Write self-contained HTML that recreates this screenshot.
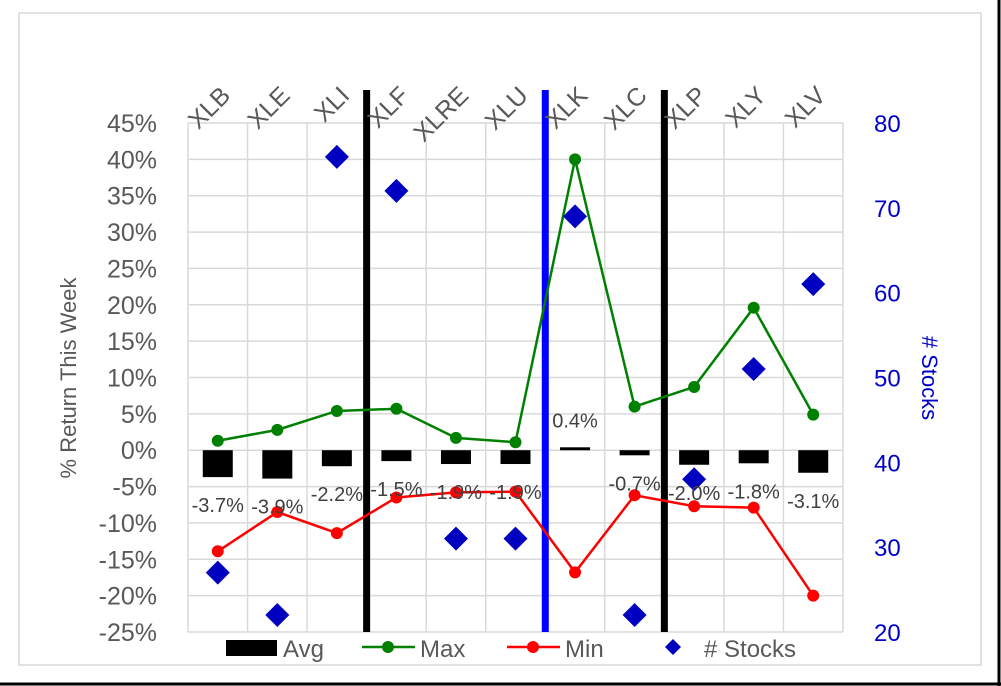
<!DOCTYPE html>
<html><head><meta charset="utf-8"><style>
body{margin:0;background:#fff;}
svg{display:block;font-family:"Liberation Sans",sans-serif;}
</style></head><body>
<svg id="chart" width="1001" height="686" viewBox="0 0 1001 686">
<rect x="19" y="13" width="962" height="652" fill="#fff" stroke="#d9d9d9" stroke-width="1.5"/>
<line x1="0" y1="684" x2="1001" y2="684" stroke="#000" stroke-width="3"/>
<line x1="999" y1="0" x2="999" y2="686" stroke="#000" stroke-width="3"/>
<g id="grid"></g>
<g id="marks"></g>
<g id="labels"></g>
</svg>
<script>
const categories=["XLB","XLE","XLI","XLF","XLRE","XLU","XLK","XLC","XLP","XLY","XLV"];
const avgVals=[-3.7,-3.9,-2.2,-1.5,-1.9,-1.9,0.4,-0.7,-2.0,-1.8,-3.1];
const maxVals=[1.3,2.8,5.4,5.7,1.7,1.1,40,6.0,8.7,19.6,4.9];
const minVals=[-13.9,-8.5,-11.4,-6.5,-5.8,-5.7,-16.8,-6.2,-7.7,-7.9,-20.0];
const stockVals=[27,22,76,72,31,31,69,22,38,51,61];
const leftTicks=[45,40,35,30,25,20,15,10,5,0,-5,-10,-15,-20,-25];
const rightTicks=[80,70,60,50,40,30,20];
const dividerAfter=[2,5,7];
const dividerColors=["#000","#0000ff","#000"];

const NS="http://www.w3.org/2000/svg";
const L=188,R=843,T=123,B=632;
const bw=(R-L)/categories.length;
const xC=i=>L+bw*(i+0.5);
const yL=v=>T+(45-v)/70*(B-T);
const yR=v=>B-(v-20)/60*(B-T);
function mk(tag,attrs,parent,text){const e=document.createElementNS(NS,tag);for(const k in attrs)e.setAttribute(k,attrs[k]);if(text!==undefined)e.textContent=text;parent.appendChild(e);return e;}
const grid=document.getElementById('grid'),marks=document.getElementById('marks'),labels=document.getElementById('labels');

leftTicks.forEach(t=>{
  const l=mk('line',{x1:L,x2:R,y1:yL(t),y2:yL(t),stroke:'#d9d9d9','stroke-width':1.5},grid);
  
  
  const tx=mk('text',{x:157,y:yL(t)+9,'text-anchor':'end','font-size':25,fill:'#595959'},labels,t+'%');
  
  
});
for(let i=0;i<=categories.length;i++){
  const l=mk('line',{x1:L+bw*i,x2:L+bw*i,y1:T,y2:B,stroke:'#d9d9d9','stroke-width':1.5},grid);
  
  
}
rightTicks.forEach(t=>{
  const tx=mk('text',{x:874,y:yR(t)+9,'font-size':24,fill:'#0000cc'},labels,String(t));
  
  
});
categories.forEach((c,i)=>{
  const x=xC(i)+14,y=97;
  const tx=mk('text',{x:x,y:y,'text-anchor':'end','font-size':25,fill:'#595959',transform:`rotate(-45 ${x} ${y})`},labels,c);
  
  
});
avgVals.forEach((v,i)=>{
  const y0=yL(0),y1=yL(v);
  const r=mk('rect',{x:xC(i)-15,y:Math.min(y0,y1),width:30,height:Math.max(1.5,Math.abs(y1-y0)),fill:'#000'},marks);
  
  
  const ly=v<0?y1+35:y1-20;
  const tx=mk('text',{x:xC(i),y:ly,'text-anchor':'middle','font-size':20,fill:'#404040'},labels,v.toFixed(1)+'%');
  
  
});
dividerAfter.forEach((d,k)=>{
  const x=L+bw*(d+1);
  const l=mk('line',{x1:x,x2:x,y1:90,y2:B,stroke:dividerColors[k],'stroke-width':7},marks);
  
  
});
function series(vals,color,name){
  const p=mk('polyline',{points:vals.map((v,i)=>xC(i)+','+yL(v)).join(' '),fill:'none',stroke:color,'stroke-width':2.5},marks);
  
  
  vals.forEach((v,i)=>{
    const c=mk('circle',{cx:xC(i),cy:yL(v),r:6,fill:color},marks);
    
    
  });
}
series(maxVals,'#008000','max');
series(minVals,'#ff0000','min');
stockVals.forEach((v,i)=>{
  const x=xC(i),y=yR(v);
  const p=mk('polygon',{points:`${x},${y-12} ${x+12},${y} ${x},${y+12} ${x-12},${y}`,fill:'#0000c0'},marks);
  
  
});
const t1=mk('text',{x:76,y:378,'text-anchor':'middle','font-size':22,fill:'#595959',transform:'rotate(-90 76 378)'},labels,'% Return This Week');


const t2=mk('text',{x:922,y:378,'text-anchor':'middle','font-size':22,fill:'#0000cc',transform:'rotate(90 922 378)'},labels,'# Stocks');


const lg=mk('g',{},labels);


let e;
e=mk('rect',{x:226,y:640,width:51,height:16,fill:'#000'},lg);


e=mk('text',{x:283,y:657,'font-size':24,fill:'#595959'},lg,'Avg');


e=mk('line',{x1:362,x2:415,y1:647,y2:647,stroke:'#008000','stroke-width':2.5},lg);


e=mk('circle',{cx:388,cy:647,r:6,fill:'#008000'},lg);


e=mk('text',{x:420,y:657,'font-size':24,fill:'#595959'},lg,'Max');


e=mk('line',{x1:507,x2:560,y1:647,y2:647,stroke:'#ff0000','stroke-width':2.5},lg);


e=mk('circle',{cx:533,cy:647,r:6,fill:'#ff0000'},lg);


e=mk('text',{x:565,y:657,'font-size':24,fill:'#595959'},lg,'Min');


e=mk('polygon',{points:'673,639 681,647 673,655 665,647',fill:'#0000c0'},lg);


e=mk('text',{x:704,y:657,'font-size':24,fill:'#595959'},lg,'# Stocks');


</script>
</body></html>
